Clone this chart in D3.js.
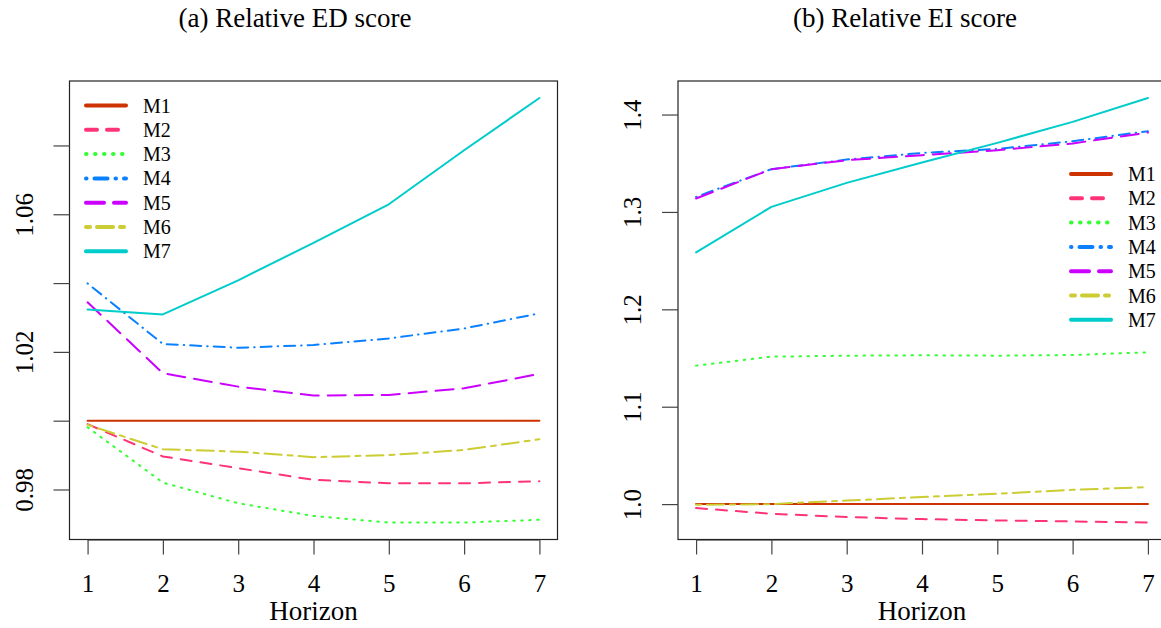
<!DOCTYPE html>
<html>
<head>
<meta charset="utf-8">
<script src="https://cdn.jsdelivr.net/npm/d3@7"></script>
<style>
  html, body { margin: 0; padding: 0; background: #fff; }
  svg { display: block; }
  text { font-family: "Liberation Serif", "DejaVu Serif", serif; fill: #000; }
</style>
</head>
<body>
<svg id="chart" width="1161" height="628"></svg>
<script>
// Forecast horizons
const horizons = [1, 2, 3, 4, 5, 6, 7];
const methods = ["M1", "M2", "M3", "M4", "M5", "M6", "M7"];

// (a) Relative ED score by method
const edM1 = [1.0000, 1.0000, 1.0000, 1.0000, 1.0000, 1.0000, 1.0000];
const edM2 = [0.9990, 0.9896, 0.9862, 0.9828, 0.9818, 0.9818, 0.9824];
const edM3 = [0.9981, 0.9820, 0.9760, 0.9723, 0.9704, 0.9704, 0.9712];
const edM4 = [1.0399, 1.0223, 1.0212, 1.0220, 1.0239, 1.0268, 1.0312];
const edM5 = [1.0344, 1.0138, 1.0099, 1.0073, 1.0075, 1.0094, 1.0136];
const edM6 = [0.9988, 0.9917, 0.9910, 0.9894, 0.9900, 0.9915, 0.9946];
const edM7 = [1.0323, 1.0309, 1.0408, 1.0517, 1.0629, 1.0786, 1.0938];

// (b) Relative EI score by method
const eiM1 = [1.0000, 1.0000, 1.0000, 1.0000, 1.0000, 1.0000, 1.0000];
const eiM2 = [0.9959, 0.9901, 0.9867, 0.9846, 0.9832, 0.9822, 0.9811];
const eiM3 = [1.1422, 1.1514, 1.1524, 1.1528, 1.1524, 1.1531, 1.1559];
const eiM4 = [1.3155, 1.3439, 1.3538, 1.3606, 1.3647, 1.3726, 1.3829];
const eiM5 = [1.3138, 1.3439, 1.3531, 1.3583, 1.3634, 1.3703, 1.3815];
const eiM6 = [0.9993, 1.0000, 1.0037, 1.0072, 1.0106, 1.0147, 1.0174];
const eiM7 = [1.2585, 1.3052, 1.3298, 1.3508, 1.3709, 1.3925, 1.4170];

// Axis ticks and their labels (blank entries are unlabeled ticks)
const edTicks = [0.98, 1.00, 1.02, 1.04, 1.06, 1.08];
const edTickLabels = ["0.98", "", "1.02", "", "1.06", ""];
const eiTicks = [1.0, 1.1, 1.2, 1.3, 1.4];
const eiTickLabels = ["1.0", "1.1", "1.2", "1.3", "1.4"];

const colors = ["#cc3300", "#ff3377", "#33ff33", "#0a80ff", "#cc00ff", "#cccc33", "#00cccc"];
// line patterns: solid, dashed, dotted, dot-dash, long-dash, two-dash, solid
const dashPlot = ["", "11,9", "1.5,6.5", "0.5,6,11,6", "18,9", "5,6,17,6", ""];
const dashLegend = ["", "11,10", "0.5,8.5", "0.5,8,13,8", "18,10", "4,7,16,7", ""];

const svg = d3.select("#chart");

function expand(ext) {
  const d = (ext[1] - ext[0]) * 0.04;
  return [ext[0] - d, ext[1] + d];
}

function panel(opts) {
  const { left, right, top, bottom, series, ticks, tickLabels, title, titleX, legendX, legendY } = opts;
  const g = svg.append("g");

  const x = d3.scaleLinear().domain(expand(d3.extent(horizons))).range([left, right]);
  const allVals = series.flat();
  const y = d3.scaleLinear().domain(expand(d3.extent(allVals))).range([bottom, top]);

  // series lines
  const line = d3.line().x((d, i) => x(horizons[i])).y(d => y(d));
  series.forEach((vals, k) => {
    g.append("path")
      .attr("d", line(vals))
      .attr("fill", "none")
      .attr("stroke", colors[k])
      .attr("stroke-width", 2)
      .attr("stroke-linecap", "round")
      .attr("stroke-linejoin", "round")
      .attr("stroke-dasharray", dashPlot[k] || null);
  });

  // plot frame
  g.append("rect")
    .attr("x", left).attr("y", top)
    .attr("width", right - left).attr("height", bottom - top)
    .attr("fill", "none").attr("stroke", "#222").attr("stroke-width", 1.2);

  // x axis
  const xAxis = d3.axisBottom(x).tickValues(horizons).tickSize(15).tickPadding(20)
    .tickFormat(d3.format("d"));
  const xg = g.append("g").attr("transform", `translate(0,${bottom})`).call(xAxis);
  xg.select(".domain").attr("d", `M${x(1)},0.5H${x(7)}`).attr("stroke", "#222").attr("stroke-width", 1.2);
  xg.selectAll(".tick line").attr("stroke", "#444").attr("stroke-width", 1.2);
  xg.selectAll(".tick text").attr("font-size", 25).attr("font-family", "Liberation Serif").attr("fill", "#000")
    .attr("dy", "0.71em");

  g.append("text")
    .attr("x", (left + right) / 2).attr("y", 620)
    .attr("text-anchor", "middle").attr("font-size", 27)
    .text("Horizon");

  // y axis
  const yAxis = d3.axisLeft(y).tickValues(ticks).tickSize(16)
    .tickFormat((d, i) => tickLabels[i]);
  const yg = g.append("g").attr("transform", `translate(${left},0)`).call(yAxis);
  yg.select(".domain").remove();
  yg.selectAll(".tick line").attr("stroke", "#444").attr("stroke-width", 1.2);
  yg.selectAll(".tick text")
    .attr("font-size", 25).attr("font-family", "Liberation Serif").attr("fill", "#000")
    .attr("text-anchor", "middle")
    .attr("x", null).attr("dy", null)
    .attr("transform", "translate(-37,0) rotate(-90)");

  // title
  svg.append("text")
    .attr("x", titleX).attr("y", 27)
    .attr("text-anchor", "middle").attr("font-size", 27)
    .text(title);

  // legend
  const rowH = 24.3;
  methods.forEach((m, k) => {
    const yy = legendY + k * rowH;
    g.append("line")
      .attr("x1", legendX).attr("x2", legendX + 40)
      .attr("y1", yy).attr("y2", yy)
      .attr("stroke", colors[k]).attr("stroke-width", 4)
      .attr("stroke-linecap", "round")
      .attr("stroke-dasharray", dashLegend[k] || null);
    g.append("text")
      .attr("x", legendX + 57).attr("y", yy)
      .attr("dy", "0.35em")
      .attr("font-size", 20)
      .text(m);
  });
}

panel({
  left: 69.5, right: 557.5, top: 81, bottom: 539.5,
  series: [edM1, edM2, edM3, edM4, edM5, edM6, edM7],
  ticks: edTicks, tickLabels: edTickLabels,
  title: "(a) Relative ED score", titleX: 295,
  legendX: 86, legendY: 105.5
});

panel({
  left: 678, right: 1166, top: 81, bottom: 539.5,
  series: [eiM1, eiM2, eiM3, eiM4, eiM5, eiM6, eiM7],
  ticks: eiTicks, tickLabels: eiTickLabels,
  title: "(b) Relative EI score", titleX: 905,
  legendX: 1071, legendY: 174
});
</script>
</body>
</html>
